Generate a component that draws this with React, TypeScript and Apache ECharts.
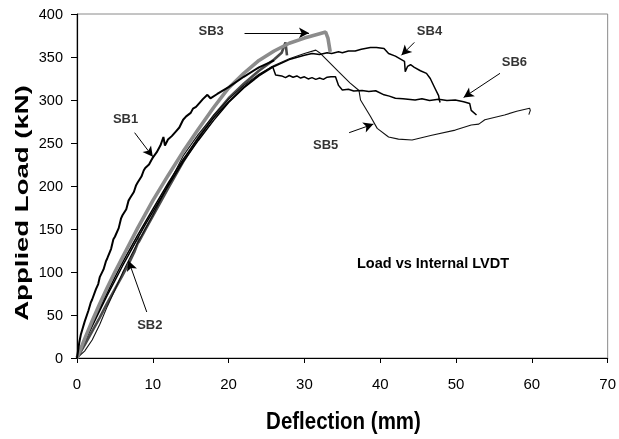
import React, { useEffect, useRef } from "react";
import * as echarts from "echarts";

const xTicks = { min: 0, max: 70, interval: 10 };
const yTicks = { min: 0, max: 400, interval: 50 };

const xTitle = "Deflection (mm)";
const yTitle = "Applied Load (kN)";
const noteText = "Load vs Internal LVDT";

const sb1: [number, number][] = [
  [0, 0], [0.3, 18], [0.5, 27], [1, 42], [1.5, 55], [1.8, 64], [2, 68], [2.5, 80], [2.8, 86],
  [3, 94], [3.5, 103], [3.8, 112], [4, 116], [4.5, 127], [4.8, 138], [5, 141], [5.5, 151],
  [5.8, 162], [6, 166], [6.5, 173], [6.8, 183], [7, 186], [7.5, 193], [7.8, 201], [8, 204],
  [8.5, 211], [8.8, 218], [9, 221], [9.5, 225], [9.8, 230], [10, 233], [10.5, 239], [11, 247],
  [11.4, 257], [11.6, 247], [12, 254], [12.5, 258], [13, 263], [13.5, 268], [14, 277],
  [14.4, 281], [15, 285], [15.3, 290], [15.7, 292], [16.2, 297], [16.6, 301], [17.2, 306],
  [17.6, 302], [18.5, 307], [20, 315], [22, 327], [24, 338], [26, 346],
];

const sb2: [number, number][] = [
  [0, 0], [1, 15], [2, 31], [3, 47], [4, 64], [5, 80], [6, 96], [7, 113], [7.6, 124],
  [8.3, 140], [8.1, 134], [9, 149], [10, 165], [12, 197], [14, 228], [16, 256], [18, 281],
  [20, 302], [22, 319], [24, 334], [26, 347], [27, 355], [27.5, 367], [27.7, 352],
];

const sb3: [number, number][] = [
  [0, 0], [1, 22], [2, 43], [3, 63], [4, 82], [5, 100], [6, 117], [7, 134], [8, 151],
  [9, 167], [10, 183], [12, 212], [14, 240], [16, 266], [18, 291], [20, 314], [22, 331],
  [24, 346], [26, 357], [28, 366], [30, 372], [32, 377], [32.8, 379], [33.1, 372], [33.4, 356],
];

const sb4: [number, number][] = [
  [0, 0], [1, 19], [2, 37], [3, 55], [4, 73], [5, 90], [6, 107], [7, 123], [8, 139],
  [9, 155], [10, 170], [12, 200], [14, 228], [16, 253], [18, 276], [20, 297], [22, 314],
  [24, 328], [26, 339], [28, 347], [30, 352], [31, 354], [32, 353], [33, 355], [33.6, 354],
  [34.5, 356], [35, 355], [35.8, 357], [36.7, 357], [37.5, 359], [38.7, 361], [39.5, 361],
  [40.5, 360], [41.1, 354], [42, 351], [42.8, 347], [43.2, 345], [43.3, 333], [43.6, 339],
  [44, 341], [44.5, 338], [45.3, 334], [46.1, 331], [46.6, 325], [47.2, 314], [47.7, 305],
  [47.8, 300], [47.9, 297],
];

const sb5: [number, number][] = [
  [0, 0], [1, 8], [2, 21], [3, 39], [4, 60], [5, 79], [6, 99], [7, 117], [8, 134],
  [9, 150], [10, 166], [11.6, 194], [12, 201], [14, 235], [16, 260], [18, 282], [20, 301],
  [22, 317], [24, 330], [26, 340], [28, 348], [30, 354], [31.5, 358], [32, 355],
  [34.5, 333], [36, 320], [37.2, 311], [37.4, 300], [38.7, 281], [39.6, 267], [41.1, 257],
  [42.4, 254.5], [44.2, 253.5], [46.8, 259], [49.9, 265], [52, 271], [53, 272], [53.8, 277],
  [56.4, 282.5], [58, 287], [59.7, 290.5], [59.8, 288], [59.6, 283],
];

const sb6: [number, number][] = [
  [0, 0], [1, 20], [2, 40], [3, 58], [4, 76], [5, 94], [6, 111], [7, 127], [8, 143],
  [9, 158], [10, 173], [12, 203], [14, 231], [16, 256], [18, 279], [20, 298], [22, 315],
  [24, 329], [25.8, 339], [26.2, 329], [27, 328], [27.5, 326], [28, 328.5], [28.5, 326.5],
  [29, 328], [29.5, 325.5], [30, 327], [30.5, 324.5], [31, 326], [31.5, 324], [32, 325.5],
  [32.5, 324], [33, 326.5], [33.5, 327], [34.1, 327], [34.5, 317], [35, 311.6], [35.8, 312.5],
  [36.5, 310.5], [37.6, 311], [38.5, 310], [39.4, 310.8], [40.5, 306], [41.2, 304.5],
  [42, 302], [43, 301.5], [44.6, 300], [45.5, 301.5], [46.5, 299.5], [47.7, 300.8],
  [48.8, 299.5], [49.9, 300], [51, 298], [51.8, 296], [52, 288], [52.7, 282.5],
];

const labelNames = ["SB1", "SB2", "SB3", "SB4", "SB5", "SB6"];
const labelAt: [number, number][] = [
  [6.4, 278], [9.6, 39.5], [17.7, 381], [46.5, 381], [32.8, 248], [57.7, 345],
];
const arrowFrom: [number, number][] = [
  [7.6, 262], [9.2, 53.5], [22.1, 378], [44.5, 367], [35.9, 262], [55.8, 331],
];
const arrowTo: [number, number][] = [
  [10.0, 234], [6.8, 113], [30.6, 378], [42.8, 352], [39.1, 272], [51.0, 303],
];

const FONT = 'Arial, "Liberation Sans", sans-serif';

export default function App() {
  const ref = useRef<HTMLDivElement>(null);
  useEffect(() => {
    if (!ref.current) return;
    const chart = echarts.init(ref.current, undefined, { renderer: "svg" });
    const line = (name: string, data: [number, number][], color: string, width: number, z: number) => ({
      name,
      type: "line",
      data,
      showSymbol: false,
      symbol: "none",
      z,
      lineStyle: { color, width },
      silent: true,
    });
    chart.setOption({
      animation: false,
      grid: {
        left: 77,
        top: 14,
        right: 9,
        bottom: 81,
        show: true,
        borderColor: "#8a8a8a",
        borderWidth: 1,
      },
      xAxis: {
        type: "value",
        ...xTicks,
        axisLine: { show: true, lineStyle: { color: "#000", width: 1.2 } },
        axisTick: { show: true, length: 5, lineStyle: { color: "#000" } },
        axisLabel: { color: "#000", fontSize: 15, fontFamily: FONT, margin: 18 },
        splitLine: { show: false },
      },
      yAxis: {
        type: "value",
        ...yTicks,
        axisLine: { show: true, lineStyle: { color: "#000", width: 1.2 } },
        axisTick: { show: true, length: 6, lineStyle: { color: "#000" } },
        axisLabel: { color: "#000", fontSize: 14.5, fontFamily: FONT, margin: 14 },
        splitLine: { show: false },
      },
      graphic: [
        {
          type: "text",
          x: 343.5,
          y: 421,
          scaleY: 1.15,
          style: {
            text: xTitle,
            align: "center",
            verticalAlign: "middle",
            font: `bold 20.5px ${FONT}`,
            fill: "#000",
          },
        },
        {
          type: "text",
          x: 22,
          y: 203,
          rotation: Math.PI / 2,
          scaleX: 1.45,
          style: {
            text: yTitle,
            align: "center",
            verticalAlign: "middle",
            font: `bold 19px ${FONT}`,
            fill: "#000",
          },
        },
        {
          type: "text",
          x: 433,
          y: 263,
          style: {
            text: noteText,
            align: "center",
            verticalAlign: "middle",
            font: `bold 14.5px ${FONT}`,
            fill: "#000",
          },
        },
      ],
      series: [
        line("SB2", sb2, "#4a4a4a", 2.6, 2),
        line("SB5", sb5, "#111", 1.1, 3),
        line("SB6", sb6, "#000", 1.5, 4),
        line("SB4", sb4, "#000", 1.5, 5),
        line("SB3", sb3, "#8c8c8c", 3.6, 6),
        line("SB1", sb1, "#000", 2, 7),
        {
          name: "labels",
          type: "scatter",
          symbol: "circle",
          symbolSize: 1,
          itemStyle: { color: "rgba(0,0,0,0)" },
          z: 10,
          silent: true,
          data: labelNames.map((n, i) => ({ name: n, value: labelAt[i] })),
          label: {
            show: true,
            position: "inside",
            formatter: "{b}",
            color: "#000",
            fontSize: 13,
            fontWeight: "bold",
            fontFamily: FONT,
          },
          markLine: {
            silent: true,
            symbol: ["none", "arrow"],
            symbolSize: [8, 10],
            label: { show: false },
            lineStyle: { color: "#000", width: 1, type: "solid" },
            data: arrowFrom.map((f, i) => [{ coord: f }, { coord: arrowTo[i] }]),
          },
        },
      ],
    });
    return () => chart.dispose();
  }, []);
  return (
    <div
      ref={ref}
      style={{ position: "fixed", left: 0, top: 0, width: 619, height: 439 }}
    />
  );
}
